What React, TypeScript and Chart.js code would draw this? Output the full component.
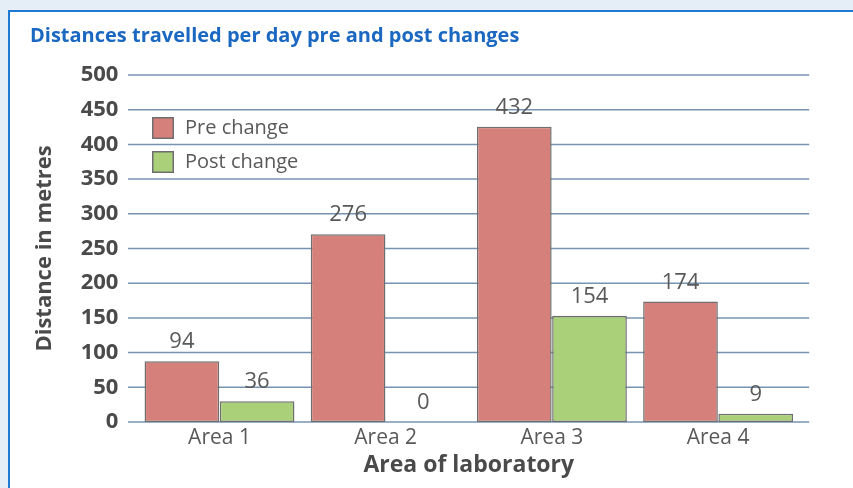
import React, { useEffect, useRef } from "react";
import { Chart, registerables } from "chart.js";

Chart.register(...registerables);

const categories = ["Area 1", "Area 2", "Area 3", "Area 4"];
const preValues = [87.5, 270.5, 425.5, 173.5];
const postValues = [30, 0, 153, 12];
const preLabels = ["94", "276", "432", "174"];
const postLabels = ["36", "0", "154", "9"];
const seriesNames = ["Pre change", "Post change"];
const yTickMax = 500;
const yTickStep = 50;

const TITLE = "Distances travelled per day pre and post changes";
const FONT = "'Open Sans', 'Noto Sans', sans-serif";
const PRE_COLOR = "#d6807b";
const POST_COLOR = "#abd07a";
const BAR_BORDER = "#6e6e6e";
const TEXT_GRAY = "#595959";
const AXIS_GRAY = "#4a4a4a";
const GRID = "#7694b2";

const gridPlugin = {
  id: "extGrid",
  beforeDatasetsDraw(chart: any) {
    const { ctx, chartArea } = chart;
    const y = chart.scales.y;
    ctx.save();
    ctx.strokeStyle = GRID;
    ctx.lineWidth = 1.5;
    y.ticks.forEach((t: any) => {
      const py = y.getPixelForValue(t.value);
      ctx.beginPath();
      ctx.moveTo(chartArea.left - 8.4, py);
      ctx.lineTo(chartArea.right + 8, py);
      ctx.stroke();
    });
    ctx.restore();
  },
};

const labelsPlugin = {
  id: "valueLabels",
  afterDatasetsDraw(chart: any) {
    const { ctx } = chart;
    const sets = [preLabels, postLabels];
    ctx.save();
    ctx.font = `22px ${FONT}`;
    ctx.fillStyle = TEXT_GRAY;
    ctx.textAlign = "center";
    ctx.textBaseline = "alphabetic";
    chart.data.datasets.forEach((_: any, di: number) => {
      const meta = chart.getDatasetMeta(di);
      meta.data.forEach((el: any, i: number) => {
        ctx.fillText(sets[di][i], el.x, el.y - 13);
      });
    });
    ctx.restore();
  },
};

const titleLegendPlugin = {
  id: "titleLegend",
  afterDraw(chart: any) {
    const { ctx } = chart;
    ctx.save();
    ctx.font = `bold 20px ${FONT}`;
    ctx.fillStyle = "#1a68c1";
    ctx.textAlign = "left";
    ctx.textBaseline = "alphabetic";
    ctx.fillText(TITLE, 30, 42);

    const colors = [PRE_COLOR, POST_COLOR];
    ctx.font = `20px ${FONT}`;
    ctx.textBaseline = "middle";
    seriesNames.forEach((name, i) => {
      const bx = 152;
      const by = 117 + i * 34;
      ctx.fillStyle = colors[i];
      ctx.fillRect(bx, by, 22, 22);
      ctx.strokeStyle = BAR_BORDER;
      ctx.lineWidth = 1.5;
      ctx.strokeRect(bx + 0.75, by + 0.75, 20.5, 20.5);
      ctx.fillStyle = TEXT_GRAY;
      ctx.fillText(name, 185, by + 11);
    });
    ctx.restore();
  },
};

export default function App() {
  const ref = useRef<HTMLCanvasElement>(null);

  useEffect(() => {
    if (!ref.current) return;
    const chart = new Chart(ref.current, {
      type: "bar",
      data: {
        labels: categories,
        datasets: [
          {
            label: seriesNames[0],
            data: preValues,
            backgroundColor: PRE_COLOR,
            borderColor: BAR_BORDER,
            borderWidth: 1.5,
            borderSkipped: false,
          },
          {
            label: seriesNames[1],
            data: postValues,
            backgroundColor: POST_COLOR,
            borderColor: BAR_BORDER,
            borderWidth: 1.5,
            borderSkipped: false,
          },
        ],
      },
      options: {
        responsive: false,
        animation: false,
        devicePixelRatio: 1,
        layout: { padding: { left: 20, top: 75, right: 51.8, bottom: 0 } },
        datasets: {
          bar: { categoryPercentage: 0.905, barPercentage: 0.993 },
        },
        plugins: {
          legend: { display: false },
          title: { display: false },
          tooltip: { enabled: false },
        },
        scales: {
          x: {
            grid: { display: false, drawTicks: false },
            border: { display: false },
            ticks: {
              color: TEXT_GRAY,
              font: { family: FONT, size: 21 },
              padding: 3,
            },
            title: {
              display: true,
              text: "Area of laboratory",
              color: AXIS_GRAY,
              font: { family: FONT, size: 23, weight: "bold" },
              padding: { top: 0, bottom: 9 },
            },
            afterFit(scale: any) {
              scale.height = 66;
            },
          },
          y: {
            min: 0,
            max: yTickMax,
            grid: { display: false, drawTicks: false },
            border: { display: false },
            ticks: {
              stepSize: yTickStep,
              color: AXIS_GRAY,
              font: { family: FONT, size: 22, weight: "bold" },
              padding: 18,
            },
            title: {
              display: true,
              text: "Distance in metres",
              color: AXIS_GRAY,
              font: { family: FONT, size: 22, weight: "bold" },
              padding: { top: 12, bottom: 0 },
            },
            afterFit(scale: any) {
              scale.width = 116.4;
            },
          },
        },
      },
      plugins: [gridPlugin, labelsPlugin, titleLegendPlugin],
    } as any);
    return () => chart.destroy();
  }, []);

  return (
    <div
      style={{
        position: "fixed",
        left: 0,
        top: 0,
        width: 853,
        height: 488,
        background: "#e5edf7",
        overflow: "hidden",
      }}
    >
      <div
        style={{
          position: "absolute",
          left: 8,
          top: 10,
          width: 900,
          height: 600,
          background: "#ffffff",
          borderTop: "2px solid #1f78d1",
          borderLeft: "2px solid #1f78d1",
        }}
      />
      <canvas
        ref={ref}
        width={853}
        height={488}
        style={{ position: "absolute", left: 0, top: 0, width: 853, height: 488 }}
      />
    </div>
  );
}
